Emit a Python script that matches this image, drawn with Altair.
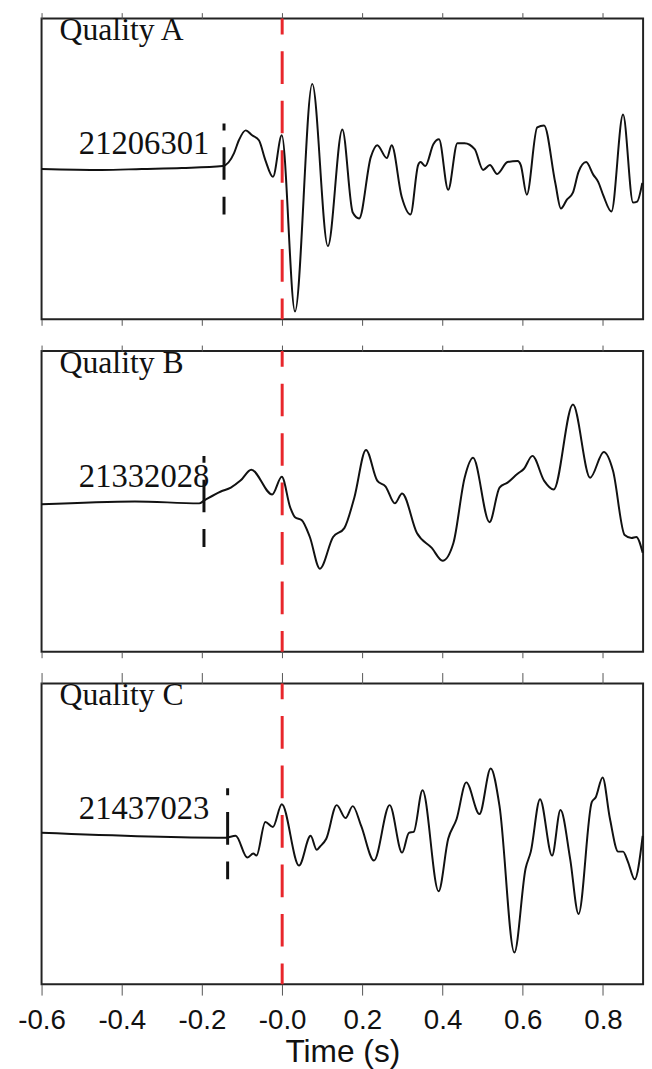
import altair as alt
import pandas as pd

# ---- waveform samples (time in s, amplitude in arbitrary units) ----
TIME_A = [-0.600, -0.450, -0.350, -0.250, -0.148, -0.120, -0.108, -0.091, -0.075, -0.058,
          -0.042, -0.023, -0.001, 0.032, 0.075, 0.114, 0.150, 0.176, 0.192, 0.221,
          0.237, 0.261, 0.273, 0.298, 0.320, 0.339, 0.345, 0.357, 0.377, 0.391,
          0.414, 0.437, 0.455, 0.480, 0.501, 0.518, 0.536, 0.562, 0.587, 0.595,
          0.610, 0.636, 0.653, 0.681, 0.695, 0.710, 0.725, 0.739, 0.758, 0.776,
          0.788, 0.801, 0.821, 0.850, 0.875, 0.885, 0.898]
AMP_A = [0, -1, 0, 1, 3, 16, 29, 39, 34, 29,
         9, -8, 34, -144, 86, -78, 40, -44, -50, 12,
         24, 11, 24, -28, -46, 4, 7, 3, 25, 30,
         -21, 26, 26, 20, -1, 4, -5, 7, 8, 4,
         -26, 42, 44, -14, -40, -31, -24, -3, 7, -6,
         -13, -27, -43, 55, -34, -33, -14]

TIME_B = [-0.600, -0.367, -0.207, -0.194, -0.153, -0.128, -0.104, -0.077, -0.025, -0.001,
          0.020, 0.032, 0.049, 0.069, 0.094, 0.127, 0.155, 0.180, 0.209, 0.237,
          0.258, 0.281, 0.299, 0.336, 0.373, 0.400, 0.427, 0.455, 0.476, 0.517,
          0.542, 0.562, 0.587, 0.603, 0.624, 0.653, 0.677, 0.725, 0.768, 0.802,
          0.825, 0.854, 0.871, 0.883, 0.899]
AMP_B = [-3, 0, -2, 1, 10, 14, 21, 32, 7, 25,
         -6, -16, -19, -36, -68, -36, -27, 4, 52, 21,
         15, -2, 8, -32, -47, -60, -42, 24, 44, -21,
         14, 19, 28, 33, 46, 21, 12, 98, 24, 50,
         31, -34, -37, -36, -52]

TIME_C = [-0.600, -0.141, -0.116, -0.087, -0.072, -0.064, -0.042, -0.023, -0.001, 0.042,
          0.071, 0.086, 0.094, 0.110, 0.136, 0.158, 0.176, 0.197, 0.229, 0.268,
          0.299, 0.316, 0.328, 0.350, 0.390, 0.414, 0.435, 0.459, 0.492, 0.520,
          0.542, 0.579, 0.607, 0.620, 0.643, 0.673, 0.694, 0.718, 0.739, 0.772,
          0.782, 0.799, 0.817, 0.838, 0.850, 0.862, 0.879, 0.899]
AMP_C = [1, -4, -2, -24, -20, -22, 12, 7, 30, -32,
         -2, -16, -13, -5, 29, 16, 28, 8, -27, 29,
         -19, 1, 2, 44, -58, -5, 15, 52, 20, 66,
         28, -120, -35, -18, 35, -22, 24, -25, -81, 32,
         37, 57, 16, -18, -18, -28, -46, -2]

QUALITY = ["Quality A", "Quality B", "Quality C"]
STATIONS = ["21206301", "21332028", "21437023"]
PICK_TIMES = [-0.145, -0.195, -0.136]
ORIGIN_TIME = 0.0
X_TICKS = [-0.6, -0.4, -0.2, 0.0, 0.2, 0.4, 0.6, 0.8]
X_DOMAIN = [-0.6, 0.9]
Y_DOMAIN = [-152, 152]

W, H = 608, 304
SERIF = "Liberation Serif"
SANS = "Liberation Sans"


def panel(idx, times, amps, last):
    df = pd.DataFrame({"t": times, "amp": amps})
    one = pd.DataFrame({"k": [0]})
    xs = alt.Scale(domain=X_DOMAIN, nice=False, zero=False)
    ys = alt.Scale(domain=Y_DOMAIN, nice=False, zero=False)
    tick = 11 if last else 6
    common = dict(values=X_TICKS, grid=False, domain=False, tickSize=tick,
                  tickColor="#555", tickWidth=1)
    bottom_kw = dict(orient="bottom", **common)
    if last:
        bottom_kw.update(
            labels=True,
            labelExpr="(datum.value <= 0 ? '-' : '') + format(abs(datum.value), '.1f')",
            labelFont=SANS, labelFontSize=28, labelColor="#111", labelPadding=12,
            labelFlush=False, labelOverlap=False,
            title="Time (s)", titleFont=SANS, titleFontSize=32,
            titleFontWeight="normal", titleColor="#111", titlePadding=2)
    else:
        bottom_kw.update(labels=False, title=None)
    top_kw = dict(orient="top", labels=False, title=None, **common)

    red = alt.Chart(one).mark_rule(
        color="#e8262b", strokeWidth=3, strokeDash=[33, 17], strokeDashOffset=17
    ).encode(
        x=alt.XDatum(ORIGIN_TIME, scale=xs, axis=alt.Axis(**top_kw)),
        y=alt.YDatum(152, scale=ys, axis=None),
        y2=alt.Y2Datum(-152),
    )
    pick = alt.Chart(one).mark_rule(
        color="#111", strokeWidth=3, strokeDash=[33, 17], strokeDashOffset=26
    ).encode(
        x=alt.XDatum(PICK_TIMES[idx], axis=None),
        y=alt.YDatum(46, axis=None),
        y2=alt.Y2Datum(-46),
    )
    line = alt.Chart(df).mark_line(
        color="#111", strokeWidth=2, interpolate="monotone"
    ).encode(
        x=alt.X("t:Q", scale=xs, axis=alt.Axis(**bottom_kw)),
        y=alt.Y("amp:Q", scale=ys, axis=None),
        order="t:Q",
    )
    qtext = alt.Chart(one).mark_text(
        align="left", baseline="alphabetic", font=SERIF, fontSize=32, color="#111"
    ).encode(
        x=alt.XDatum(-0.555, axis=None),
        y=alt.YDatum(130, axis=None),
        text=alt.value(QUALITY[idx]),
    )
    stext = alt.Chart(one).mark_text(
        align="left", baseline="alphabetic", font=SERIF, fontSize=33, color="#111"
    ).encode(
        x=alt.XDatum(-0.507, axis=None),
        y=alt.YDatum(15, axis=None),
        text=alt.value(STATIONS[idx]),
    )
    return alt.layer(red, line, pick, qtext, stext).resolve_axis(
        x="independent"
    ).properties(width=W, height=H)


chart = alt.vconcat(
    panel(0, TIME_A, AMP_A, False),
    panel(1, TIME_B, AMP_B, False),
    panel(2, TIME_C, AMP_C, True),
    spacing=32,
    bounds="flush",
).configure_view(
    stroke="#222", strokeWidth=2
).properties(
    padding={"left": 16, "top": 5, "right": 4, "bottom": 2},
    background="white",
)

chart.save("out.html", embed_options={"renderer": "svg", "actions": False})
